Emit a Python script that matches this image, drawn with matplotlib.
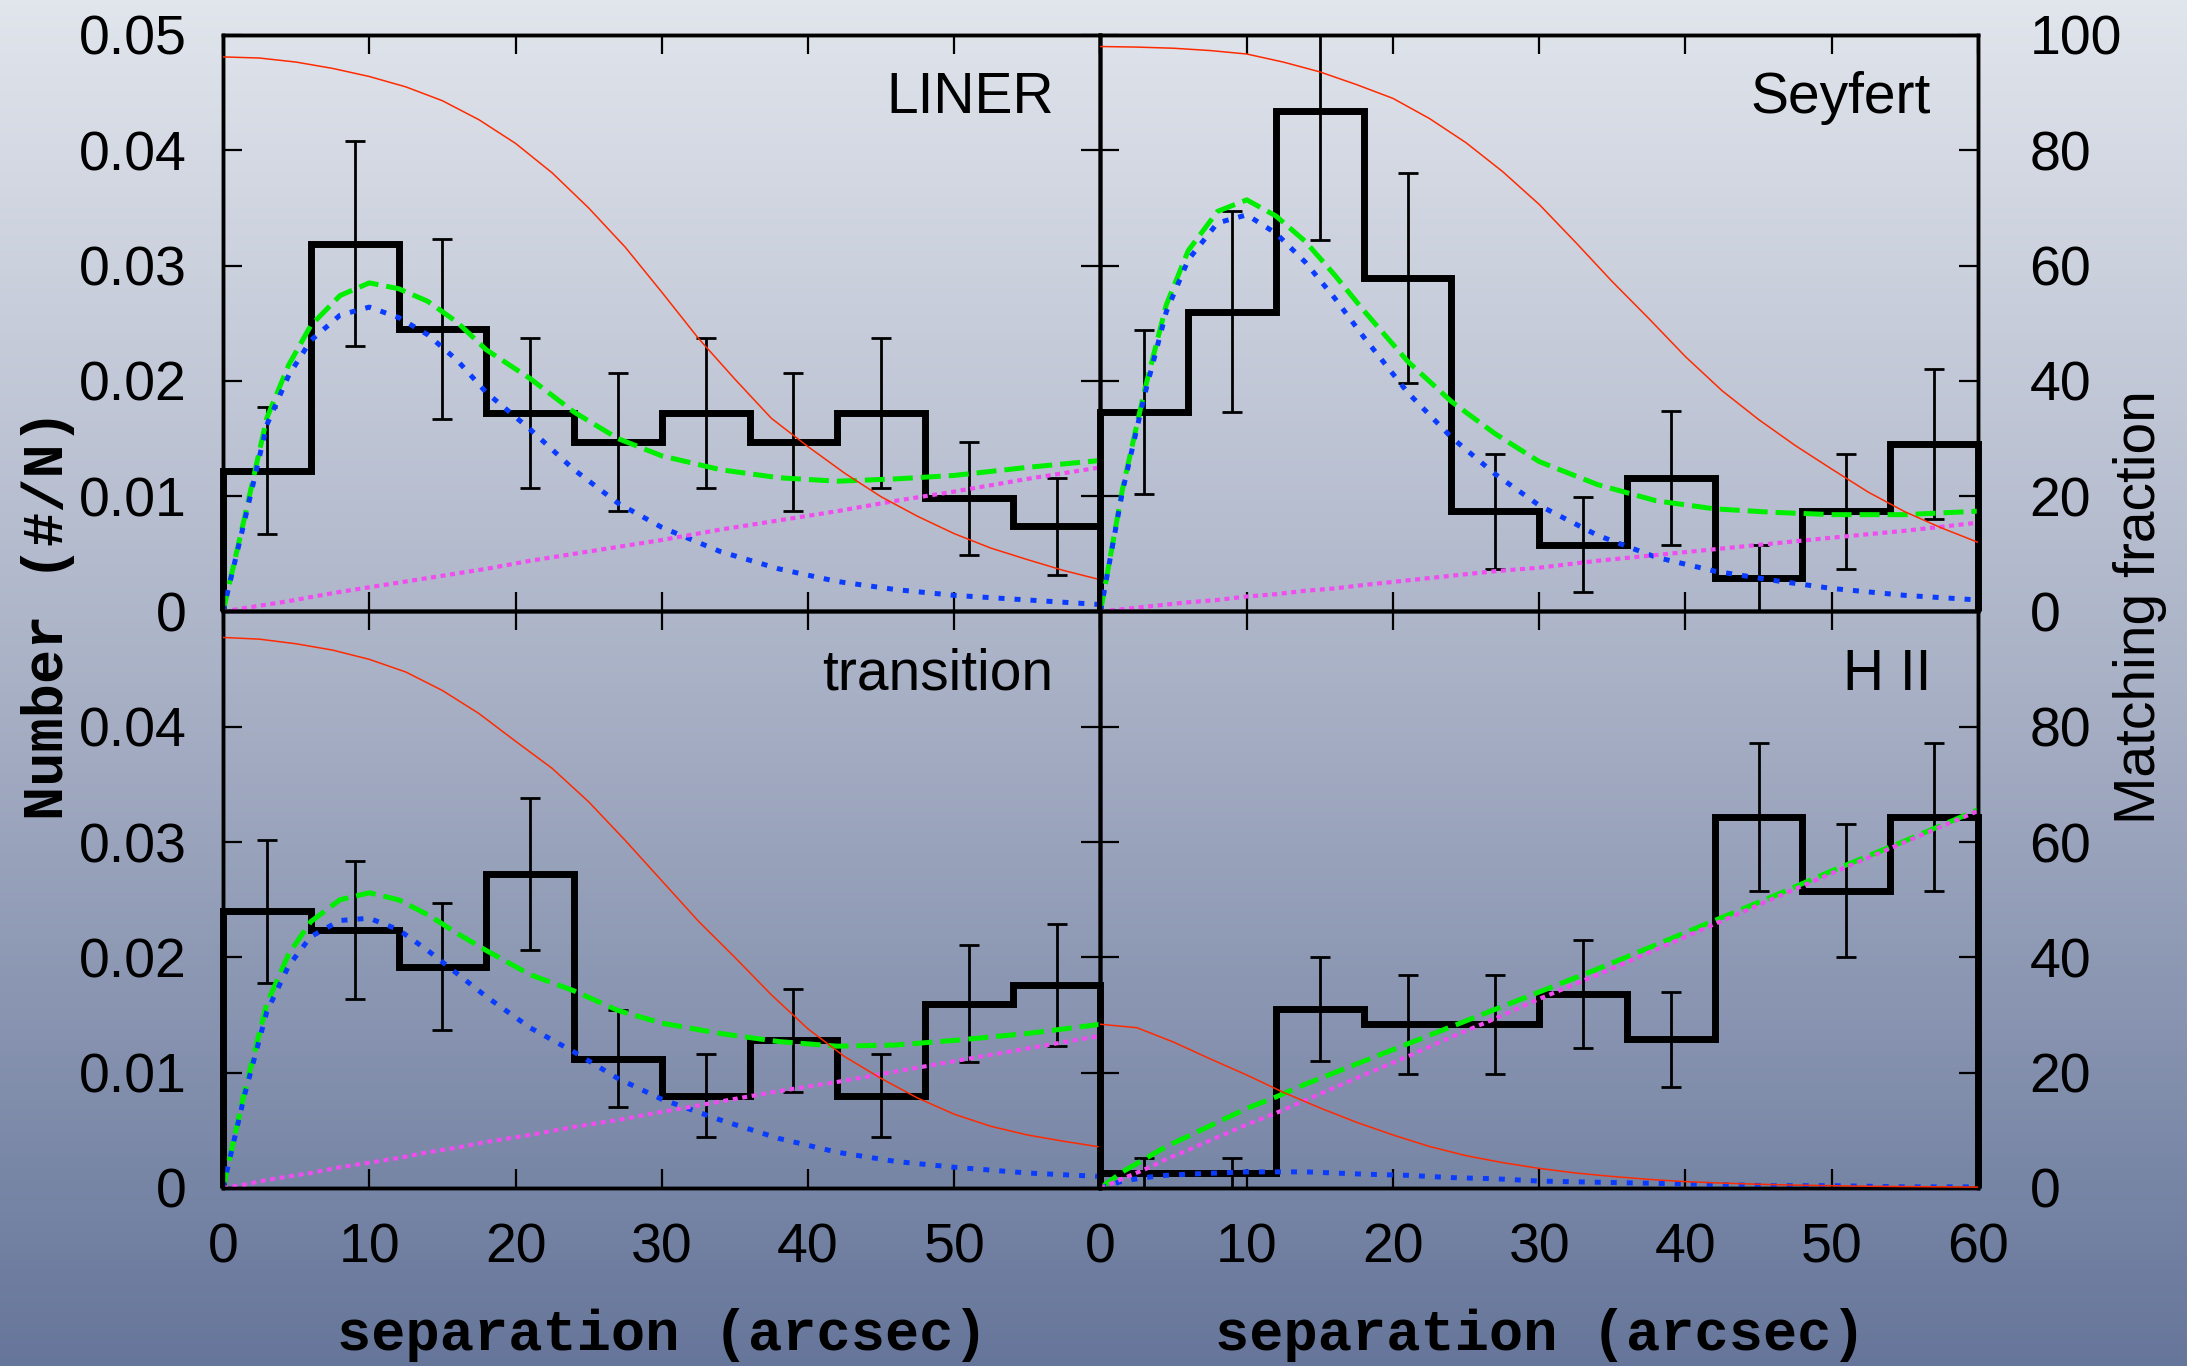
import numpy as np
import matplotlib
matplotlib.use("Agg")
import matplotlib.pyplot as plt
from matplotlib.colors import LinearSegmentedColormap

plt.rcParams['font.family'] = ['Liberation Sans', 'DejaVu Sans']

# histogram bins (arcsec)
BIN_EDGES = [0, 6, 12, 18, 24, 30, 36, 42, 48, 54, 60]

# normalised counts and errors
LINER_HIST = [0.0122, 0.0319, 0.0245, 0.0172, 0.0147, 0.0172, 0.0147, 0.0172, 0.0098, 0.0074]
LINER_ERR = [0.0055, 0.0089, 0.0078, 0.0065, 0.0060, 0.0065, 0.0060, 0.0065, 0.0049, 0.0042]
SEY_HIST = [0.0173, 0.0260, 0.0434, 0.0289, 0.0087, 0.0058, 0.0116, 0.0029, 0.0087, 0.0145]
SEY_ERR = [0.0071, 0.0087, 0.0112, 0.0091, 0.0050, 0.0041, 0.0058, 0.0029, 0.0050, 0.0065]
TRA_HIST = [0.0240, 0.0224, 0.0192, 0.0272, 0.0112, 0.0080, 0.0128, 0.0080, 0.0160, 0.0176]
TRA_ERR = [0.0062, 0.0060, 0.0055, 0.0066, 0.0042, 0.0036, 0.0045, 0.0036, 0.0051, 0.0053]
HII_HIST = [0.0013, 0.0013, 0.0155, 0.0142, 0.0142, 0.0168, 0.0129, 0.0322, 0.0258, 0.0322]
HII_ERR = [0.0013, 0.0013, 0.0045, 0.0043, 0.0043, 0.0047, 0.0041, 0.0064, 0.0058, 0.0064]

# model curves (left scale) sampled at these separations
CURVE_X = [0, 1.5, 3, 4.5, 6, 8, 10, 12, 14, 16, 18, 21, 24, 27, 30, 34, 38, 42, 46, 50, 55, 60]

LINER_BLUE = [0, 0.008, 0.0162, 0.0205, 0.0235, 0.0257, 0.0264, 0.0255, 0.024, 0.0218, 0.019,
              0.0158, 0.0123, 0.0094, 0.0073, 0.0052, 0.0037, 0.0026, 0.0019, 0.0014, 0.001, 0.0006]
LINER_GREEN = [0, 0.0083, 0.0168, 0.0214, 0.0248, 0.0274, 0.0285, 0.028, 0.0269, 0.0251, 0.0227,
               0.0202, 0.0173, 0.015, 0.0135, 0.0123, 0.0116, 0.0113, 0.0115, 0.0118, 0.0125, 0.0131]
LINER_MAG = [0, 0.0003, 0.0006, 0.0009, 0.00125, 0.0017, 0.0021, 0.0025, 0.0029, 0.0033, 0.0037,
             0.0044, 0.005, 0.0056, 0.0062, 0.0071, 0.0079, 0.0087, 0.0096, 0.0104, 0.0115, 0.0125]

SEY_BLUE = [0, 0.0104, 0.0187, 0.026, 0.0305, 0.0337, 0.0344, 0.0328, 0.0303, 0.0272, 0.0238,
            0.019, 0.0151, 0.0119, 0.0092, 0.0066, 0.0047, 0.0035, 0.0027, 0.002, 0.0014, 0.001]
SEY_GREEN = [0, 0.0106, 0.0191, 0.0266, 0.0313, 0.0347, 0.0357, 0.0343, 0.0321, 0.0292, 0.0261,
             0.0217, 0.0182, 0.0154, 0.013, 0.011, 0.0096, 0.0089, 0.0086, 0.0084, 0.0084, 0.0087]
SEY_MAG = [0, 0.0002, 0.0004, 0.0006, 0.0008, 0.001, 0.0013, 0.0015, 0.0018, 0.002, 0.0023,
           0.0027, 0.0031, 0.0035, 0.0038, 0.0044, 0.0049, 0.0054, 0.0059, 0.0064, 0.007, 0.0077]

TRA_BLUE = [0, 0.0082, 0.0153, 0.0193, 0.0218, 0.0232, 0.0234, 0.0224, 0.0206, 0.0186, 0.0166,
            0.0139, 0.0118, 0.0095, 0.0077, 0.0059, 0.0043, 0.0031, 0.0023, 0.0018, 0.0013, 0.001]
TRA_GREEN = [0, 0.0085, 0.016, 0.0203, 0.0231, 0.025, 0.0256, 0.025, 0.0237, 0.0221, 0.0206,
             0.0185, 0.0171, 0.0154, 0.0143, 0.0134, 0.0127, 0.0123, 0.0124, 0.0128, 0.0134, 0.0142]
TRA_MAG = [0, 0.0003, 0.0007, 0.001, 0.0013, 0.0018, 0.0022, 0.0026, 0.0031, 0.0035, 0.004,
           0.0046, 0.0053, 0.0059, 0.0066, 0.0075, 0.0084, 0.0092, 0.0101, 0.011, 0.0121, 0.0132]

HII_BLUE = [0, 0.0006, 0.0009, 0.0011, 0.0012, 0.0013, 0.0014, 0.0014, 0.0014, 0.0013, 0.0012,
            0.0011, 0.0009, 0.0008, 0.0006, 0.0005, 0.0004, 0.0003, 0.0002, 0.0002, 0.0001, 0.0001]
HII_GREEN = [0, 0.0014, 0.0025, 0.0036, 0.0045, 0.0057, 0.0069, 0.0079, 0.009, 0.01, 0.011,
             0.0125, 0.014, 0.0155, 0.017, 0.019, 0.0211, 0.0232, 0.0253, 0.0275, 0.0301, 0.0328]
HII_MAG = [0, 0.0008, 0.0016, 0.0025, 0.0033, 0.0044, 0.0055, 0.0065, 0.0076, 0.0087, 0.0098,
           0.0114, 0.0131, 0.0147, 0.0164, 0.0185, 0.0207, 0.0229, 0.0251, 0.0273, 0.03, 0.0327]

# matching fraction (right scale, per cent)
RED_X = [0, 2.5, 5, 7.5, 10, 12.5, 15, 17.5, 20, 22.5, 25, 27.5, 30, 32.5, 35, 37.5, 40,
         42.5, 45, 47.5, 50, 52.5, 55, 57.5, 60]
LINER_RED = [96.2, 96.0, 95.3, 94.2, 92.8, 91.0, 88.6, 85.3, 81.2, 76.1, 70, 63.2, 55.4, 47.4,
             40.3, 33.5, 28.6, 24, 19.9, 16.5, 13.5, 11, 9, 7.1, 5.5]
SEY_RED = [98, 97.9, 97.7, 97.3, 96.7, 95.3, 93.6, 91.4, 89, 85.5, 81.3, 76.3, 70.6, 64, 57.2,
           50.8, 44.2, 38.3, 33.3, 28.8, 24.7, 20.7, 17.3, 14.5, 12]
TRA_RED = [95.5, 95.2, 94.4, 93.3, 91.7, 89.5, 86.3, 82.3, 77.5, 72.8, 67, 60.3, 53.3, 46.3, 40,
           33.5, 27.6, 22.8, 19, 15.6, 12.8, 10.7, 9.2, 8.1, 7.1]
HII_RED = [28.4, 27.8, 25.3, 22.4, 19.6, 16.6, 13.9, 11.4, 9.2, 7.2, 5.6, 4.4, 3.4, 2.6, 2.0,
           1.5, 1.1, 0.85, 0.65, 0.5, 0.4, 0.3, 0.25, 0.2, 0.15]

PANEL_NAMES = ['LINER', 'Seyfert', 'transition', 'H II']

XTICKS = [0, 10, 20, 30, 40, 50, 60]
YTICKS = [0, 0.01, 0.02, 0.03, 0.04, 0.05]
RTICKS = [0, 20, 40, 60, 80, 100]
XLABELS_LEFT = ['0', '10', '20', '30', '40', '50', '']
XLABELS_RIGHT = ['0', '10', '20', '30', '40', '50', '60']
YLABELS_TOP = ['0', '0.01', '0.02', '0.03', '0.04', '0.05']
YLABELS_BOTTOM = ['0', '0.01', '0.02', '0.03', '0.04', '']
RLABELS_TOP = ['0', '20', '40', '60', '80', '100']
RLABELS_BOTTOM = ['0', '20', '40', '60', '80', '']

panels = [
    (LINER_HIST, LINER_ERR, LINER_RED, LINER_BLUE, LINER_GREEN, LINER_MAG),
    (SEY_HIST, SEY_ERR, SEY_RED, SEY_BLUE, SEY_GREEN, SEY_MAG),
    (TRA_HIST, TRA_ERR, TRA_RED, TRA_BLUE, TRA_GREEN, TRA_MAG),
    (HII_HIST, HII_ERR, HII_RED, HII_BLUE, HII_GREEN, HII_MAG),
]

fig = plt.figure(figsize=(21.87, 13.66), dpi=100)

# gradient background
bg = fig.add_axes([0, 0, 1, 1], zorder=-10)
cmap = LinearSegmentedColormap.from_list('bg', ['#e1e5ec', '#a9b1c6', '#66769a'])
bg.imshow(np.linspace(0, 1, 256).reshape(-1, 1), aspect='auto', cmap=cmap,
          extent=[0, 1, 0, 1], origin='upper')
bg.axis('off')

left, width = 0.10197, 0.40123
bottom, height = 0.13031, 0.42204
edges = np.array(BIN_EDGES, dtype=float)
centers = 0.5 * (edges[:-1] + edges[1:])

for i, (hist, err, red, blue, green, mag) in enumerate(panels):
    row, col = divmod(i, 2)
    ax = fig.add_axes([left + col * width, bottom + (1 - row) * height, width, height])
    ax.patch.set_alpha(0)
    ax.set_xlim(0, 60)
    ax.set_ylim(0, 0.05)

    ax.stairs(hist, edges, baseline=0, color='black', lw=5, clip_on=False, zorder=3)
    ax.errorbar(centers, hist, yerr=err, fmt='none', ecolor='black', elinewidth=2,
                capsize=7, capthick=2, zorder=4)
    ax.plot(CURVE_X, green, color='#00ee00', lw=3.6, ls=(0, (4, 1.6)), zorder=5)
    ax.plot(CURVE_X, blue, color='#0a3cff', lw=3.6, ls=(0, (1.2, 2.0)), zorder=6)
    ax.plot(CURVE_X, mag, color='#f04cf0', lw=3.0, ls=(0, (1.2, 1.1)), zorder=7)

    ax.set_xticks(XTICKS)
    ax.set_yticks(YTICKS)
    ax.tick_params(direction='in', length=14, width=1.6, top=True, right=False,
                   labelsize=40)
    ax.tick_params(axis='y', pad=26)
    ax.tick_params(axis='x', pad=25)
    if row == 1:
        ax.set_xticklabels(XLABELS_LEFT if col == 0 else XLABELS_RIGHT)
    else:
        ax.tick_params(labelbottom=False)
    if col == 0:
        ax.set_yticklabels(YLABELS_TOP if row == 0 else YLABELS_BOTTOM)
    else:
        ax.tick_params(labelleft=False)

    ax.text(0.9465, 0.864, PANEL_NAMES[i], transform=ax.transAxes, ha='right',
            va='baseline', fontsize=41)

    # matching fraction on the right-hand scale
    tw = ax.twinx()
    tw.set_ylim(0, 100)
    tw.plot(RED_X, red, color='#ff2a00', lw=1.1, zorder=8)
    tw.set_yticks(RTICKS)
    tw.tick_params(direction='in', length=14, width=1.6, labelsize=40, pad=37)
    if col == 1:
        tw.set_yticklabels(RLABELS_TOP if row == 0 else RLABELS_BOTTOM)
    else:
        tw.tick_params(labelright=False)

    for a in (ax, tw):
        for sp in a.spines.values():
            sp.set_linewidth(2.5)

mono = ['Liberation Mono', 'DejaVu Sans Mono']
fig.text(0.022, 0.5505, 'Number (#/N)', rotation=90, ha='center', va='center',
         fontsize=41, family=mono, fontweight='bold')
fig.text(0.9787, 0.5556, 'Matching fraction', rotation=90, ha='center', va='center',
         fontsize=41)
fig.text(0.3027, 0.0117, 'separation (arcsec)', ha='center', va='baseline',
         fontsize=41, family=mono, fontweight='bold')
fig.text(0.7042, 0.0117, 'separation (arcsec)', ha='center', va='baseline',
         fontsize=41, family=mono, fontweight='bold')

fig.savefig('out.png', dpi=100)
